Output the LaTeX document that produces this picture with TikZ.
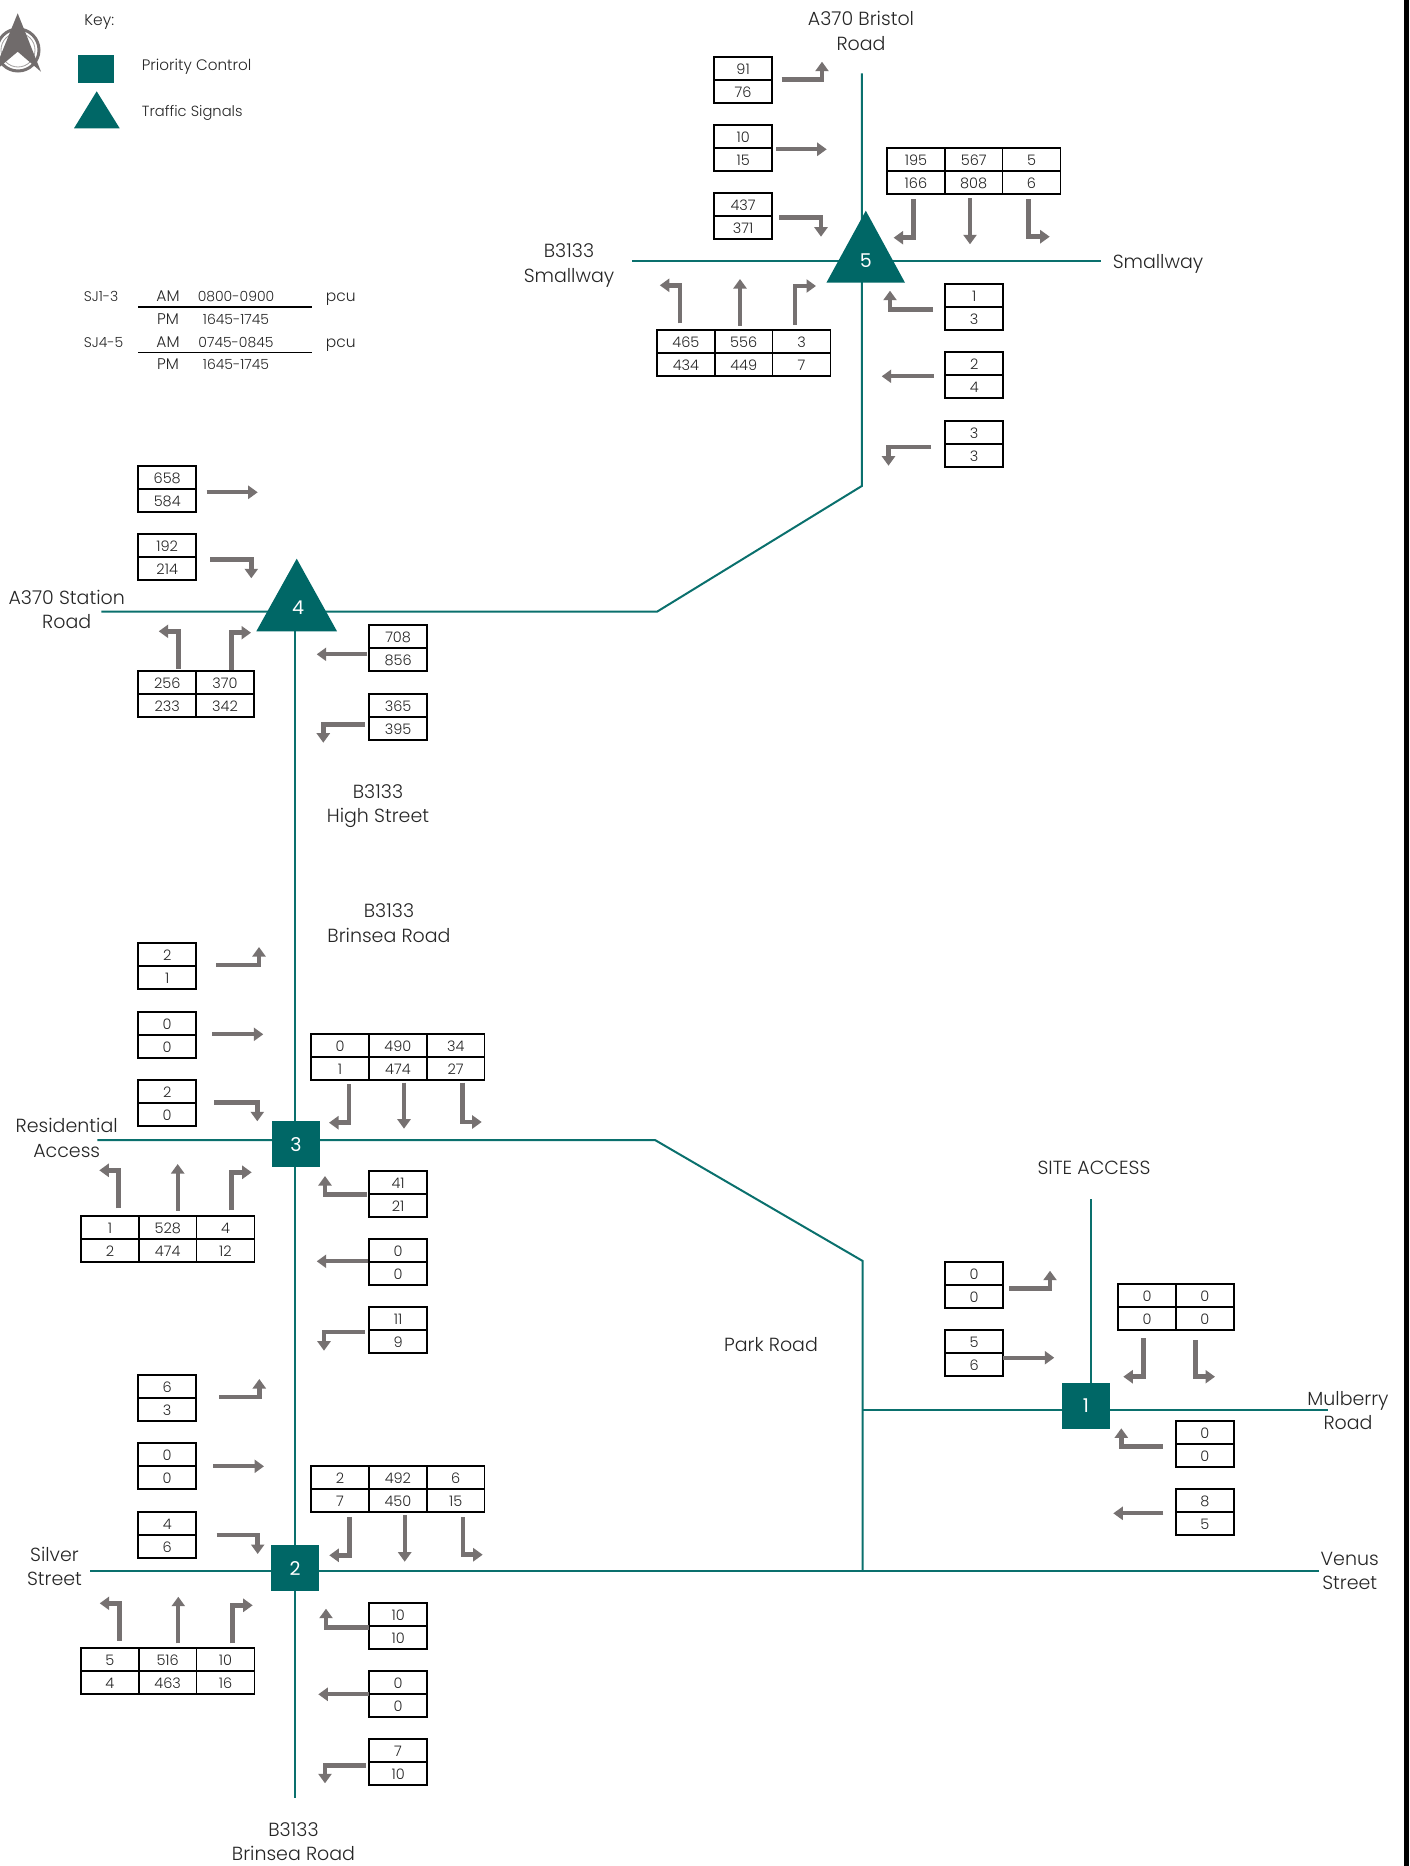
\documentclass[tikz,border=0pt]{standalone}
\usepackage{fontspec}
\setmainfont{Poppins Light}
\newfontfamily\numfont{Poppins}
\usetikzlibrary{arrows.meta,backgrounds}
\definecolor{teal1}{HTML}{006766}
\definecolor{road}{HTML}{0A706D}
\definecolor{arr}{HTML}{767171}
\definecolor{ink}{HTML}{262626}
\tikzset{
  cell/.style={draw=black,line width=1.7pt,inner sep=0pt,outer sep=0pt,minimum width=57.8pt,minimum height=23pt,anchor=north west,font=\fontsize{14.5}{15}\selectfont,text=ink},
  lbl/.style={anchor=base,yshift=-7pt,font=\fontsize{19}{20}\selectfont,text=ink,inner sep=0pt},
  small/.style={anchor=base,yshift=-5pt,font=\fontsize{15.5}{16}\selectfont,text=ink,inner sep=0pt},
  smallw/.style={small,anchor=base west},
  timet/.style={small,font=\fontsize{14}{15}\selectfont},
  roadline/.style={draw=road,line width=2pt},
  junc/.style={fill=teal1,draw=none,minimum width=48pt,minimum height=46pt,inner sep=0pt,text=white,font=\numfont\fontsize{19}{20}\selectfont},
  juncnum/.style={inner sep=0pt,text=white,font=\numfont\fontsize{19}{20}\selectfont},
  tri/.style={fill=teal1,draw=none},
  elbowarr/.style={draw=arr,line width=4.6pt,line join=miter,-{Triangle[length=9.5pt,width=13pt,fill=arr]}},
  straightarr/.style={draw=arr,line width=4pt,-{Triangle[length=9.5pt,width=13pt,fill=arr]}},
}
% one column: name,x,ytop,top,bottom
\newcommand\tabone[5]{%
  \node[cell] (#1T) at (#2,#3) {\raisebox{-6pt}[0pt][0pt]{#4}};
  \node[cell] (#1B) at (#2,#3+23) {\raisebox{-6pt}[0pt][0pt]{#5}};}
% elbow arrow: name, start, bend, tip
\newcommand\elbow[4]{%
  \coordinate (#1s) at (#2); \coordinate (#1m) at (#3); \coordinate (#1e) at (#4);
  \draw[elbowarr] (#1s) -- (#1m) -- (#1e);}
\newcommand\straight[3]{%
  \coordinate (#1s) at (#2); \coordinate (#1e) at (#3);
  \draw[straightarr] (#1s) -- (#1e);}
\begin{document}
\begin{tikzpicture}[x=1pt,y=-1pt]
\useasboundingbox (0,0) rectangle (1409,1866);
\fill[black] (1404,0) rectangle (1409,1866);

% north arrow
\begin{scope}
\clip (0,0) rectangle (60,85);
\draw[arr!70,line width=0.8pt] (18,50) circle (17);
\draw[arr,line width=3pt] (18,50) circle (21);
\fill[arr!95!black] (17.7,13.3) -- (41,71.7) -- (17.7,51.7) -- (-6,71.7) -- cycle;
\end{scope}

% key
\node[small] (keyT) at (99.3,20.7) {Key:};
\node[fill=teal1,minimum width=35.4pt,minimum height=27.7pt,inner sep=0pt] (keyS) at (96,68.8) {};
\fill[tri] (96.7,91.3) -- (119.7,128.3) -- (74,128.3) -- cycle;
\node[smallw,font=\fontsize{15.2}{16}\selectfont] (keyP) at (141.7,65.5) {Priority Control};
\node[smallw,font=\fontsize{14.7}{16}\selectfont] (keyL) at (141.7,111.5) {Traffic Signals};

% period table
\node[smallw,font=\fontsize{14}{15}\selectfont] (sj13) at (83.7,296.7) {SJ1-3};
\node[small] (am1) at (168,296.7) {AM};
\node[timet] (t1) at (236,296.7) {0800-0900};
\node[smallw] (pcu1) at (325.7,296.7) {pcu};
\coordinate (la) at (138,307); \coordinate (lb) at (312,307);
\draw[black,line width=1.5pt] (la) -- (lb);
\node[small] (pm1) at (168,319.7) {PM};
\node[timet] (t2) at (236,319.7) {1645-1745};
\node[smallw,font=\fontsize{14}{15}\selectfont] (sj45) at (83.7,342.7) {SJ4-5};
\node[small] (am2) at (168,342.7) {AM};
\node[timet] (t3) at (236,342.7) {0745-0845};
\node[smallw] (pcu2) at (325.7,342.7) {pcu};
\coordinate (lc) at (138,352.7); \coordinate (ld) at (312,352.7);
\draw[black,line width=1.5pt] (lc) -- (ld);
\node[small] (pm2) at (168,364.7) {PM};
\node[timet] (t4) at (236,364.7) {1645-1745};

% junctions
\fill[tri] (865.8,210.7) -- (905,282.7) -- (826.4,282.7) -- cycle;
\node[juncnum] (j5) at (865.8,260.7) {5};
\fill[tri] (296.7,558.7) -- (337,631.3) -- (256.3,631.3) -- cycle;
\node[juncnum] (j4) at (298,607.7) {4};
\node[junc] (j3) at (296,1144.2) {3};
\node[junc] (j2) at (295,1568.3) {2};
\node[junc] (j1) at (1086,1406) {1};

% roads
\coordinate (n5) at (861.8,73.3);
\coordinate (b5) at (861.8,486);
\coordinate (w5) at (632.3,261);
\coordinate (e5) at (1101,261);
\coordinate (w4) at (101.3,611.7);
\coordinate (e4) at (657,611.7);
\coordinate (s2) at (295.3,1797.7);
\coordinate (w3) at (97.3,1140);
\coordinate (e3) at (655,1140);
\coordinate (b1) at (862.7,1261);
\coordinate (w2) at (90,1571);
\coordinate (e2) at (1318.7,1571);
\coordinate (t2j) at (862.7,1571);
\coordinate (w1) at (862.7,1410);
\coordinate (e1) at (1328.3,1410);
\coordinate (n1) at (1090.7,1199.3);
\coordinate (n4) at (295.3,631);
\begin{scope}[on background layer]
\draw[roadline] (n5) -- (b5) -- (e4) -- (w4);
\draw[roadline] (w5) -- (e5);
\draw[roadline] (n4) -- (s2);
\draw[roadline] (w3) -- (e3) -- (b1) -- (t2j);
\draw[roadline] (w2) -- (e2);
\draw[roadline] (w1) -- (e1);
\draw[roadline] (n1) -- (n1 |- j1.north);
\end{scope}

% road labels
\node[lbl] (l1) at (861,18) {A370 Bristol};
\node[lbl] (l2) at (861,43) {Road};
\node[lbl] (l3) at (569,250) {B3133};
\node[lbl] (l4) at (569,275) {Smallway};
\node[lbl] (l5) at (1158,261) {Smallway};
\node[lbl] (l6) at (66.7,597) {A370 Station};
\node[lbl] (l7) at (66.7,621) {Road};
\node[lbl] (l8) at (378,791) {B3133};
\node[lbl] (l9) at (378,815) {High Street};
\node[lbl] (l10) at (389,910) {B3133};
\node[lbl] (l11) at (389,935) {Brinsea Road};
\node[lbl] (l12) at (66.7,1125) {Residential};
\node[lbl] (l13) at (66.7,1150) {Access};
\node[lbl] (l14) at (54.5,1554) {Silver};
\node[lbl] (l15) at (54.5,1578) {Street};
\node[lbl] (l16) at (293.5,1829) {B3133};
\node[lbl] (l17) at (293.5,1853) {Brinsea Road};
\node[lbl] (l18) at (1094,1167.7) {SITE ACCESS};
\node[lbl] (l19) at (771,1344) {Park Road};
\node[lbl] (l20) at (1348,1398) {Mulberry};
\node[lbl] (l21) at (1348,1422) {Road};
\node[lbl] (l22) at (1349.7,1558) {Venus};
\node[lbl] (l23) at (1349.7,1582) {Street};

% tables: junction 5
\tabone{A}{714.2}{56.7}{91}{76}
\tabone{B}{714.2}{124.7}{10}{15}
\tabone{C}{714.2}{193.3}{437}{371}
\tabone{Da}{887}{147.7}{195}{166}
\tabone{Db}{944.8}{147.7}{567}{808}
\tabone{Dc}{1002.6}{147.7}{5}{6}
\tabone{Ea}{657}{330}{465}{434}
\tabone{Eb}{714.8}{330}{556}{449}
\tabone{Ec}{772.6}{330}{3}{7}
\tabone{F}{945.3}{283.7}{1}{3}
\tabone{G}{945.3}{352.3}{2}{4}
\tabone{H}{945.3}{421}{3}{3}
% junction 4
\tabone{I}{138.3}{465.7}{658}{584}
\tabone{J}{138.3}{534}{192}{214}
\tabone{Ka}{138.3}{670.7}{256}{233}
\tabone{Kb}{196.1}{670.7}{370}{342}
\tabone{L}{369.2}{624.7}{708}{856}
\tabone{M}{369.2}{693.7}{365}{395}
% junction 3
\tabone{N}{138.3}{943.3}{2}{1}
\tabone{O}{138.3}{1011.7}{0}{0}
\tabone{P}{138.3}{1080}{2}{0}
\tabone{Qa}{311.2}{1034}{0}{1}
\tabone{Qb}{369}{1034}{490}{474}
\tabone{Qc}{426.8}{1034}{34}{27}
\tabone{Ra}{81}{1216}{1}{2}
\tabone{Rb}{138.8}{1216}{528}{474}
\tabone{Rc}{196.6}{1216}{4}{12}
\tabone{S}{369.2}{1170.7}{41}{21}
\tabone{U}{369.2}{1239}{0}{0}
\tabone{V}{369.2}{1307}{11}{9}
% junction 2
\tabone{W}{138.3}{1375}{6}{3}
\tabone{X}{138.3}{1443.3}{0}{0}
\tabone{Y}{138.3}{1511.7}{4}{6}
\tabone{Za}{311.2}{1466}{2}{7}
\tabone{Zb}{369}{1466}{492}{450}
\tabone{Zc}{426.8}{1466}{6}{15}
\tabone{ABa}{81}{1648}{5}{4}
\tabone{ABb}{138.8}{1648}{516}{463}
\tabone{ABc}{196.6}{1648}{10}{16}
\tabone{AC}{369.2}{1602.7}{10}{10}
\tabone{AD}{369.2}{1671}{0}{0}
\tabone{AE}{369.2}{1738.7}{7}{10}
% junction 1
\tabone{AF}{945.2}{1261.7}{0}{0}
\tabone{AG}{945.2}{1329.7}{5}{6}
\tabone{AHa}{1118.2}{1283.7}{0}{0}
\tabone{AHb}{1176}{1283.7}{0}{0}
\tabone{AJ}{1176}{1421}{0}{0}
\tabone{AK}{1176}{1489}{8}{5}

% arrows: junction 5
\elbow{a1}{781.5,79.7}{822,79.7}{822,61.7}
\straight{a2}{776,149.3}{826.7,149.3}
\elbow{a3}{779,217.3}{821,217.3}{821,236.7}
\elbow{a4}{913.2,199.3}{913.2,237.7}{893.6,237.7}
\straight{a5}{970,198}{970,244.3}
\elbow{a6}{1028.6,199.3}{1028.6,236.7}{1049.7,236.7}
\elbow{a7}{679.8,323.3}{679.8,285.3}{659.8,285.3}
\straight{a8}{740,325.7}{740,279}
\elbow{a9}{795,325}{795,286}{816,286}
\elbow{a10}{933,309.3}{890,309.3}{890,290.7}
\straight{a11}{933.6,376.3}{881.7,376.3}
\elbow{a12}{931,447}{888.5,447}{888.5,465.7}
% junction 4
\straight{b1a}{206.7,492.3}{257.7,492.3}
\elbow{b2}{210,559.3}{251.3,559.3}{251.3,578.3}
\elbow{b3}{178.3,668.7}{178.3,631.3}{158.7,631.3}
\elbow{b4}{231.3,670}{231.3,632.7}{251,632.7}
\straight{b5a}{367.3,654.3}{316.7,654.3}
\elbow{b6}{364.7,724.3}{323.3,724.3}{323.3,742.7}
% junction 3
\elbow{c1}{216,965}{259,965}{259,947}
\straight{c2}{212.3,1034.3}{263.3,1034.3}
\elbow{c3}{214,1102.3}{257.3,1102.3}{257.3,1121.3}
\elbow{c4}{349,1084}{349,1122.7}{329,1122.7}
\straight{c5}{404,1082.7}{404,1128.7}
\elbow{c6}{462.3,1082.7}{462.3,1122}{481.7,1122}
\elbow{c7}{118.7,1208.3}{118.7,1170.3}{99.3,1170.3}
\straight{c8}{177.7,1210.7}{177.7,1164}
\elbow{c9}{231.3,1210.3}{231.3,1172.3}{251.7,1172.3}
\elbow{c10}{366.7,1194.3}{325,1194.3}{325,1176}
\straight{c11}{368.3,1261.3}{316.7,1261.3}
\elbow{c12}{365,1332}{324,1332}{324,1350.7}
% junction 2
\elbow{d1}{219,1397}{259.3,1397}{259.3,1379}
\straight{d2}{213,1466.3}{264,1466.3}
\elbow{d3}{216.7,1535}{257.7,1535}{257.7,1554}
\elbow{d4}{349.7,1517.3}{349.7,1555.3}{329.3,1555.3}
\straight{d5}{404.7,1515.3}{404.7,1561.7}
\elbow{d6}{463,1517.3}{463,1554.7}{482.7,1554.7}
\elbow{d7}{119.3,1640.7}{119.3,1603.3}{99.7,1603.3}
\straight{d8}{178.3,1643.3}{178.3,1596.7}
\elbow{d9}{232.3,1643.3}{232.3,1605.3}{252.7,1605.3}
\elbow{d10}{369.3,1627.3}{326,1627.3}{326,1608.7}
\straight{d11}{369.3,1694.3}{318.3,1694.3}
\elbow{d12}{366,1765.3}{325,1765.3}{325,1783.3}
% junction 1
\elbow{e1a}{1009.3,1288.3}{1050,1288.3}{1050,1270.7}
\straight{e2a}{1003.3,1357.7}{1054.3,1357.7}
\elbow{e3a}{1143.7,1338.3}{1143.7,1376.7}{1123.3,1376.7}
\elbow{e4a}{1195.3,1340}{1195.3,1376.7}{1215,1376.7}
\elbow{e5a}{1162.7,1446.3}{1121.3,1446.3}{1121.3,1428.3}
\straight{e6a}{1163.3,1513.3}{1113.3,1513.3}
\end{tikzpicture}
\end{document}
